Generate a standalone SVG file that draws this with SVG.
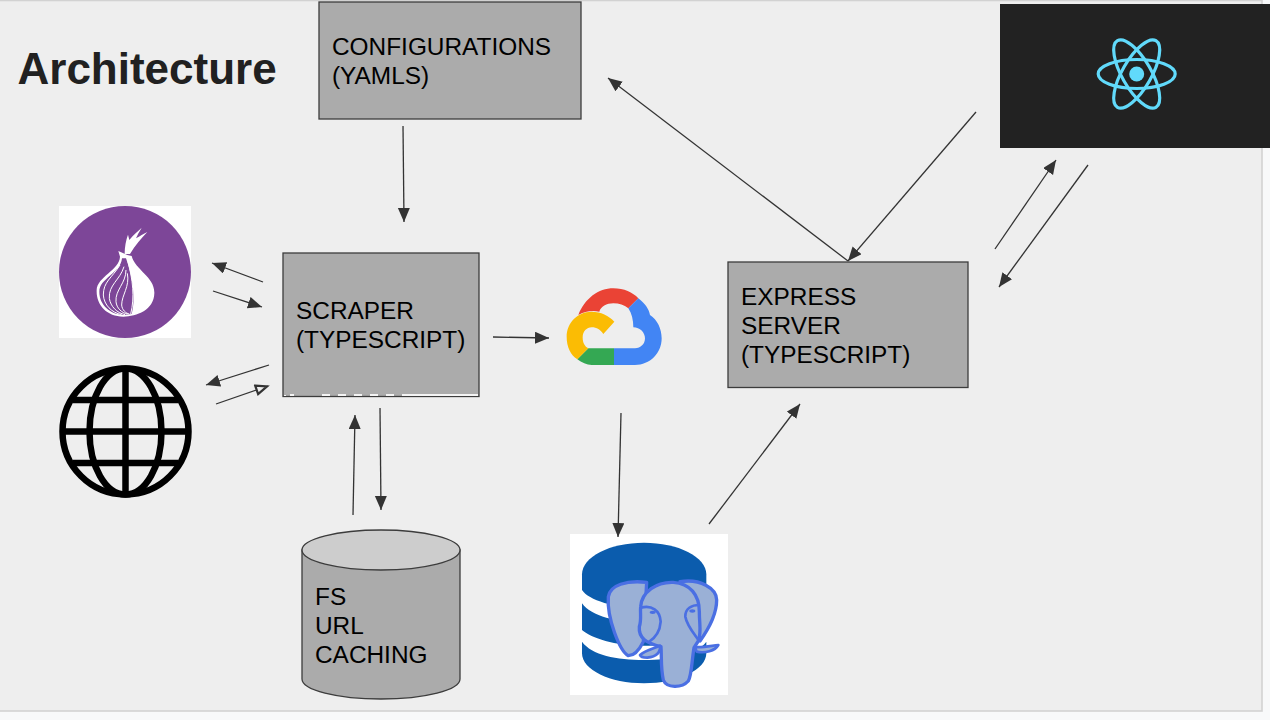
<svg xmlns="http://www.w3.org/2000/svg" width="1270" height="720" viewBox="0 0 1270 720">
<style>
.box{fill:#ababab;stroke:#3c3c3c;stroke-width:1.3}
.lbl{font-family:"Liberation Sans",Arial,sans-serif;font-size:24.4px;fill:#000}
.c{fill:none;stroke:#333;stroke-width:1.3;marker-end:url(#arrow)}
.vein{fill:none;stroke:#fff;stroke-width:3}
.ele{fill:#9ab0d6;stroke:#4a6fe3;stroke-width:10;stroke-linejoin:round}
.atom{fill:none;stroke:#61dafb;stroke-width:3.200}
.globe{fill:none;stroke:#000;stroke-width:6.500}
</style>
<defs>
<marker id="arrow" markerUnits="userSpaceOnUse" markerWidth="16" markerHeight="14" refX="14" refY="6" orient="auto"><path d="M0 0L14 6L0 12Z" fill="#333"/></marker>
<marker id="arrowOpen" markerUnits="userSpaceOnUse" markerWidth="16" markerHeight="14" refX="14" refY="6" orient="auto"><path d="M2 1.500L13 6L2 10.500Z" fill="#eee" stroke="#333" stroke-width="2.200"/></marker>
</defs>
<rect width="1270" height="720" fill="#f8f9fa"/>
<rect id="slide" x="-2" y="0.5" width="1264" height="710.5" fill="#eeeeee" stroke="#d2d2d2" stroke-width="1.6"/>
<g id="title"><text x="17.500" y="84" font-family="'Liberation Sans',Arial,sans-serif" font-size="44" font-weight="700" fill="#212121">Architecture</text></g>
<g id="configurations"><rect class="box" x="319" y="2" width="262" height="117"/><text class="lbl" x="332" y="55">CONFIGURATIONS</text><text class="lbl" x="332" y="84">(YAMLS)</text></g>
<g id="scraper"><rect class="box" x="283" y="253" width="196" height="143.500"/>
<path fill="#f4f4f4" d="M402 394h76v2h-76zM322 394h8v2h-8zM338 394h8v2h-8zM354 394h8v2h-8zM370 394h8v2h-8zM386 394h8v2h-8zM290 394h4v2h-4zM284 395h2v1h-2z"/>
<text class="lbl" x="296" y="319">SCRAPER</text><text class="lbl" x="296" y="348">(TYPESCRIPT)</text></g>
<g id="express"><rect class="box" x="728" y="262" width="240" height="125.500"/><text class="lbl" x="741" y="305">EXPRESS</text><text class="lbl" x="741" y="334">SERVER</text><text class="lbl" x="741" y="363">(TYPESCRIPT)</text></g>
<g id="cache">
<path class="box" d="M302 550V679C302 690 337 699 381 699S460 690 460 679V550Z"/>
<ellipse cx="381" cy="550" rx="79" ry="20" fill="#cdcdcd" stroke="#3c3c3c" stroke-width="1.3"/>
<text class="lbl" x="315" y="605">FS</text><text class="lbl" x="315" y="634">URL</text><text class="lbl" x="315" y="663">CACHING</text></g>
<g id="tor">
<rect x="59" y="206" width="132" height="132" fill="#fff"/><circle cx="125" cy="272" r="66" fill="#7d4698"/>
<g transform="translate(40 190) scale(.33333)">
<path fill="#fff" d="M235 183L262 195L275 198C285 240 345 260 343 310C342 360 290 380 250 380C200 380 168 345 170 300C172 260 238 240 240 200Z"/>
<path fill="#7d4698" d="M246 205C242 250 178 265 178 305C178 345 210 372 250 375L275 372C288 330 278 260 258 205Z"/>
<path class="vein" d="M240 225C215 265 190 275 190 315C192 345 215 368 245 374M252 230C240 270 205 285 208 325C212 350 230 368 255 374M258 240C258 280 225 300 228 335C230 355 245 368 262 372M262 250C270 290 245 315 245 345C246 360 258 370 268 372M264 215C278 270 285 320 272 372"/>
<path fill="#fff" d="M254 192C254 170 258 150 264 134L268 150C280 135 292 125 305 113C298 125 292 135 288 145C300 138 310 132 322 126C305 145 285 165 270 192Z"/>
</g></g>
<g id="web">
<circle class="globe" cx="125.500" cy="431.500" r="63"/><ellipse class="globe" cx="125.500" cy="431.500" rx="36" ry="63"/>
<path class="globe" d="M125.500 369V494M63 431.500H188M73 400H178M73 463H178"/></g>
<g id="cloud"><g transform="translate(550 270) scale(.33333)">
<path fill="#ea4335" d="M85 135C105 85 145 55 190 55C222 55 248 67 265 85L235 115C222 105 208 100 190 100C170 100 152 110 148 125C125 120 103 125 85 135Z"/>
<path fill="#4285f4" d="M265 85C285 100 297 118 300 135C322 150 335 175 335 205C335 250 300 285 255 285H192V235H255C272 235 285 222 285 205C285 188 270 172 250 172C250 150 245 130 235 115Z"/>
<path fill="#34a853" d="M115 235H192V285H125C110 285 95 278 82 268Z"/>
<path fill="#fbbc04" d="M125 125C152 125 177 137 193 155L160 192C152 180 140 172 125 172C110 172 98 185 98 202C98 220 105 230 115 235L82 268C62 255 50 230 50 200C50 158 83 125 125 125Z"/>
</g></g>
<g id="postgres"><rect x="570" y="534" width="158" height="161" fill="#fff"/>
<g transform="translate(560 525) scale(.33333)">
<path fill="#0b5cad" d="M66 148C66 95 150 53 252 53S439 95 439 148V175C420 225 340 250 252 250S85 225 66 195Z"/>
<path fill="#0b5cad" d="M66 235C95 275 170 292 252 292S410 275 439 235V290C410 340 340 362 252 362S95 340 66 315Z"/>
<path fill="#0b5cad" d="M66 350C95 390 170 405 252 405S410 390 439 350V385C439 435 354 475 252 475S66 435 66 385Z"/>
<path class="ele" d="M145 215C150 180 200 165 260 172L250 350C240 370 225 392 205 392C180 380 140 280 145 215Z"/>
<path class="ele" d="M360 170C420 160 470 190 470 225C470 270 440 320 420 348L380 300Z"/>
<path class="ele" d="M242 245C245 200 290 170 340 172C390 175 418 210 418 260C418 300 425 320 415 348L402 368C395 410 395 450 385 468C365 490 320 490 310 465C302 430 305 395 303 365C260 355 235 340 238 305C245 285 240 265 242 245Z"/>
<path fill="none" stroke="#4a6fe3" stroke-width="8" stroke-linejoin="round" d="M243 248C275 240 300 255 302 290C300 320 285 340 265 352M418 240C395 240 375 250 376 275C380 300 405 330 415 345"/>
<path class="ele" style="stroke-width:8" d="M240 390C258 375 285 370 300 362C302 382 290 395 262 398C250 398 242 396 240 390Z"/>
<path class="ele" style="stroke-width:8" d="M405 366C430 368 455 362 475 360C465 378 435 385 410 380Z"/>
<ellipse cx="278" cy="262" rx="9" ry="5" fill="#4a6fe3"/><ellipse cx="397" cy="258" rx="9" ry="5" fill="#4a6fe3"/>
</g></g>
<g id="react"><rect x="1000" y="4" width="270" height="144" fill="#222"/>
<ellipse class="atom" cx="1136.700" cy="74" rx="38.500" ry="14.500"/>
<ellipse class="atom" cx="1136.700" cy="74" rx="38.500" ry="14.500" transform="rotate(60 1136.700 74)"/>
<ellipse class="atom" cx="1136.700" cy="74" rx="38.500" ry="14.500" transform="rotate(120 1136.700 74)"/>
<circle cx="1136.700" cy="74" r="7.500" fill="#61dafb"/></g>
<g id="connectors">
<line class="c" x1="403" y1="126" x2="404" y2="222"/>
<line class="c" x1="263" y1="282" x2="212" y2="263"/>
<line class="c" x1="213" y1="291" x2="262" y2="307"/>
<line class="c" x1="269" y1="365" x2="206" y2="385"/>
<line class="c" x1="216" y1="404" x2="268" y2="386" style="marker-end:url(#arrowOpen)"/>
<line class="c" x1="493" y1="337" x2="549" y2="338"/>
<line class="c" x1="353" y1="515" x2="355" y2="415"/>
<line class="c" x1="380" y1="408" x2="381" y2="510"/>
<line class="c" x1="621" y1="413" x2="618" y2="537"/>
<line class="c" x1="709" y1="524" x2="800" y2="404"/>
<line class="c" x1="848" y1="261" x2="608" y2="78"/>
<line class="c" x1="976" y1="112" x2="848" y2="261"/>
<line class="c" x1="995" y1="249" x2="1056" y2="160"/>
<line class="c" x1="1088" y1="165" x2="999" y2="287"/>
</g>
</svg>
